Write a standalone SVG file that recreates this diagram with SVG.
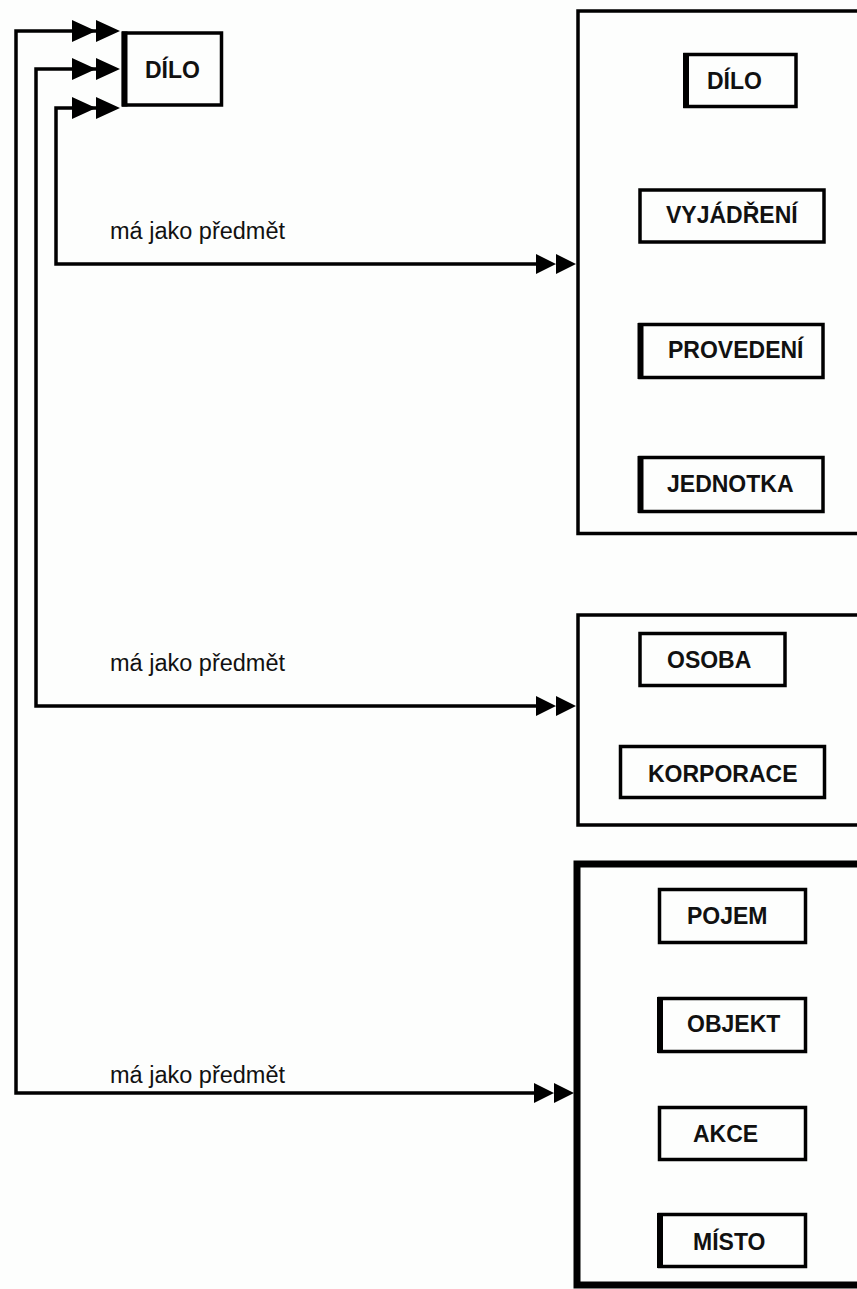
<svg xmlns="http://www.w3.org/2000/svg" xmlns:xlink="http://www.w3.org/1999/xlink" width="857" height="1289" viewBox="0 0 857 1289">
<style>
.bg{fill:#fdfefd}
.box{fill:none;stroke:#000;stroke-width:3.5}
.big{fill:none;stroke:#000;stroke-width:3.5}
.big3{fill:none;stroke:#000;stroke-width:7}
.thick{stroke:#000;stroke-width:6}
.lbl{font-family:"Liberation Sans",Arial,sans-serif;font-weight:bold;font-size:23px;fill:#111}
.rel{font-family:"Liberation Sans",Arial,sans-serif;font-size:23.5px;fill:#111}
.conn{fill:none;stroke:#000;stroke-width:3.5;stroke-linejoin:miter}
</style>
<defs>
<path id="dbl" d="M-40,-10 L-20,0 L-40,10 Z M-20,-10 L0,0 L-20,10 Z" fill="#000"/>
<path id="dblTop" d="M-48,-11 L-24,0 L-48,11 Z M-24,-11 L0,0 L-24,11 Z" fill="#000"/>
</defs>
<rect class="bg" x="0" y="0" width="857" height="1289"/>

<g id="connectors">
<path class="conn" d="M100,31 H16 V1093 H550"/>
<path class="conn" d="M100,69 H36 V706 H552"/>
<path class="conn" d="M100,108 H56 V264 H552"/>
<use xlink:href="#dblTop" href="#dblTop" x="120" y="31"/>
<use xlink:href="#dblTop" href="#dblTop" x="120" y="69"/>
<use xlink:href="#dblTop" href="#dblTop" x="120" y="108"/>
<use xlink:href="#dbl" href="#dbl" x="576" y="264"/>
<use xlink:href="#dbl" href="#dbl" x="576" y="706"/>
<use xlink:href="#dbl" href="#dbl" x="574" y="1093"/>
<text class="rel" x="110" y="239">má jako předmět</text>
<text class="rel" x="110" y="671">má jako předmět</text>
<text class="rel" x="110" y="1083">má jako předmět</text>
</g>

<g id="dilo-top">
<rect class="box" x="123.5" y="33" width="98" height="72"/>
<line class="thick" x1="124.5" y1="31.5" x2="124.5" y2="106.5"/>
<text class="lbl" x="145" y="78">DÍLO</text>
</g>

<g id="group1">
<rect class="big" x="578" y="11" width="300" height="522.5"/>
</g>
<g id="g1-dilo">
<rect class="box" x="685" y="54.5" width="111" height="52"/>
<line class="thick" x1="686" y1="53" x2="686" y2="108"/>
<text class="lbl" x="707" y="89">DÍLO</text>
</g>
<g id="g1-vyjadreni">
<rect class="box" x="640" y="190" width="184" height="52"/>
<text class="lbl" x="666" y="223">VYJÁDŘENÍ</text>
</g>
<g id="g1-provedeni">
<rect class="box" x="640" y="324.5" width="183" height="53"/>
<line class="thick" x1="640.5" y1="323" x2="640.5" y2="379"/>
<text class="lbl" x="668" y="358">PROVEDENÍ</text>
</g>
<g id="g1-jednotka">
<rect class="box" x="640" y="457.5" width="183" height="54"/>
<line class="thick" x1="640.5" y1="456" x2="640.5" y2="513"/>
<text class="lbl" x="667" y="492">JEDNOTKA</text>
</g>

<g id="group2">
<rect class="big" x="578" y="615" width="300" height="210"/>
</g>
<g id="g2-osoba">
<rect class="box" x="640" y="633.5" width="145" height="52"/>
<text class="lbl" x="667" y="668">OSOBA</text>
</g>
<g id="g2-korporace">
<rect class="box" x="620.5" y="746.5" width="204" height="51"/>
<text class="lbl" x="648" y="782">KORPORACE</text>
</g>

<g id="group3">
<rect class="big3" x="577" y="864" width="300" height="421"/>
</g>
<g id="g3-pojem">
<rect class="box" x="659.5" y="889.5" width="146" height="53"/>
<text class="lbl" x="687" y="924">POJEM</text>
</g>
<g id="g3-objekt">
<rect class="box" x="659.5" y="998.5" width="146" height="53"/>
<line class="thick" x1="660" y1="997" x2="660" y2="1053"/>
<text class="lbl" x="687" y="1032">OBJEKT</text>
</g>
<g id="g3-akce">
<rect class="box" x="659.5" y="1107.5" width="146" height="52"/>
<text class="lbl" x="693" y="1142">AKCE</text>
</g>
<g id="g3-misto">
<rect class="box" x="659.5" y="1214.5" width="146" height="52"/>
<line class="thick" x1="660" y1="1213" x2="660" y2="1268"/>
<text class="lbl" x="693" y="1250">MÍSTO</text>
</g>
</svg>
